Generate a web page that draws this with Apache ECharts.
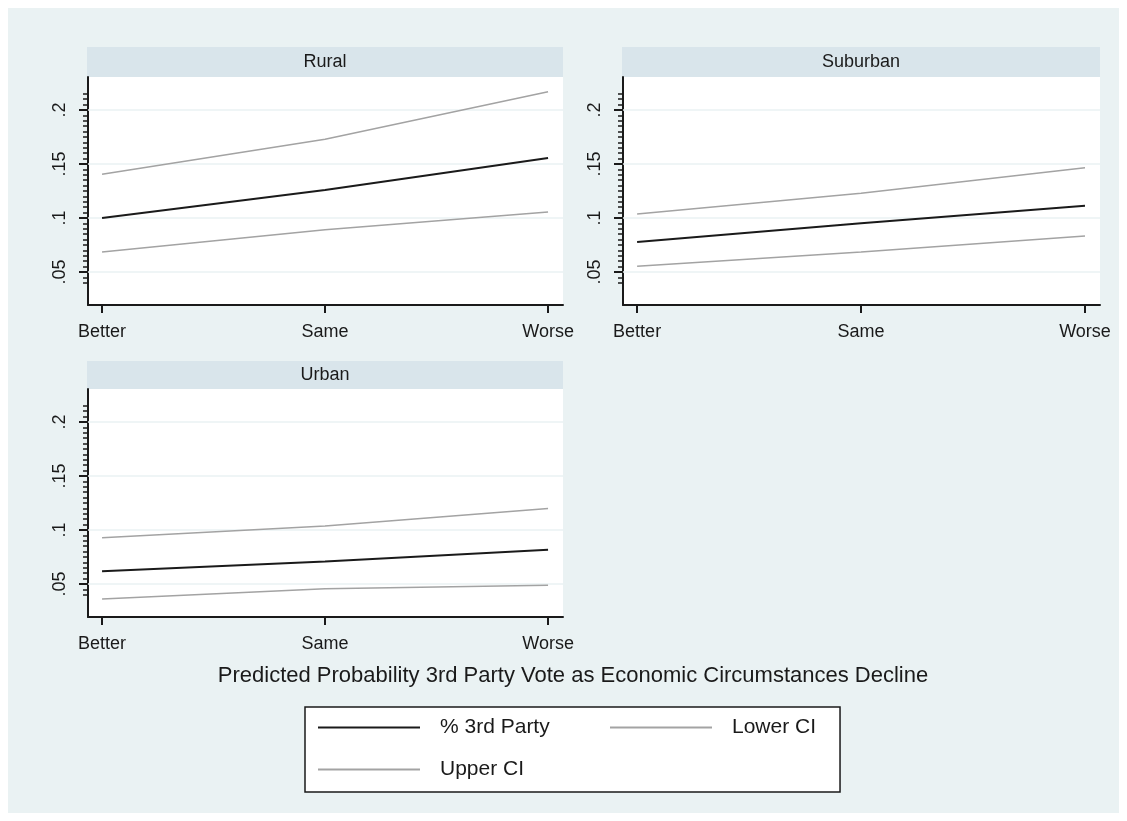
<!DOCTYPE html>
<html>
<head>
<meta charset="utf-8">
<script src="https://cdn.jsdelivr.net/npm/echarts@6/dist/echarts.min.js"></script>
<style>
  html, body { margin: 0; padding: 0; background: #ffffff; }
  #chart { width: 1127px; height: 821px; }
</style>
</head>
<body>
<div id="chart"></div>
<script>
// Economic outlook categories on the x axis
const categories = ['Better', 'Same', 'Worse'];
const panels = ['Rural', 'Suburban', 'Urban'];

// Predicted probability of a 3rd party vote with confidence bounds, per panel
const meanRural = [0.100, 0.126, 0.1556];
const lowerRural = [0.0685, 0.089, 0.1056];
const upperRural = [0.1405, 0.173, 0.217];

const meanSuburban = [0.0778, 0.0951, 0.1114];
const lowerSuburban = [0.0553, 0.0685, 0.0833];
const upperSuburban = [0.1037, 0.1229, 0.1466];

const meanUrban = [0.0618, 0.0709, 0.0818];
const lowerUrban = [0.0361, 0.0455, 0.0488];
const upperUrban = [0.0927, 0.1036, 0.1200];

// y axis ticks and their labels
const yTicks = [0.05, 0.1, 0.15, 0.2];
const yTickLabels = ['.05', '.1', '.15', '.2'];

const seriesNames = ['% 3rd Party', 'Lower CI', 'Upper CI'];
const titleText = 'Predicted Probability 3rd Party Vote as Economic Circumstances Decline';

const FONT = '"Liberation Sans", Arial, sans-serif';
const INK = '#1a1a1a';
const BG = '#eaf2f3';
const STRIP = '#d9e5eb';
const CI_GREY = '#a3a3a3';

const Y_MIN = 0.0194, Y_MAX = 0.2306;
const X_MIN = 0.937, X_MAX = 3.067;

// small ticks every .005 along the y axis
const minorTicks = [];
for (let k = 8; k <= 43; k++) minorTicks.push(+(k * 0.005).toFixed(3));

const panelData = [
  { mean: meanRural, lower: lowerRural, upper: upperRural },
  { mean: meanSuburban, lower: lowerSuburban, upper: upperSuburban },
  { mean: meanUrban, lower: lowerUrban, upper: upperUrban }
];

const gridBoxes = [
  { left: 88, top: 77, width: 475, height: 228 },
  { left: 623, top: 77, width: 477, height: 228 },
  { left: 88, top: 389, width: 475, height: 228 }
];

const grids = [], xAxes = [], yAxes = [], series = [];

gridBoxes.forEach((g, i) => {
  grids.push(Object.assign({ backgroundColor: '#ffffff', show: true, borderWidth: 0 }, g));

  xAxes.push({
    type: 'value', gridIndex: i, min: X_MIN, max: X_MAX,
    axisLine: { show: true, onZero: false, lineStyle: { color: INK, width: 2 } },
    axisTick: { show: true, customValues: [1, 2, 3], length: 8, lineStyle: { color: INK, width: 2 } },
    axisLabel: {
      show: true, customValues: [1, 2, 3], margin: 18,
      formatter: v => categories[Math.round(v) - 1],
      color: INK, fontFamily: FONT, fontSize: 18
    },
    splitLine: { show: false }
  });

  // main y axis: line, major ticks, labels
  yAxes.push({
    type: 'value', gridIndex: i, min: Y_MIN, max: Y_MAX,
    axisLine: { show: true, lineStyle: { color: INK, width: 2 } },
    axisTick: { show: true, customValues: yTicks, length: 9, lineStyle: { color: INK, width: 2 } },
    axisLabel: {
      show: true, customValues: yTicks, rotate: 90, margin: 19,
      formatter: v => yTickLabels[yTicks.indexOf(v)],
      color: INK, fontFamily: FONT, fontSize: 18
    },
    splitLine: { show: false }
  });
  // companion y axis carrying the small ticks
  yAxes.push({
    type: 'value', gridIndex: i, min: Y_MIN, max: Y_MAX, position: 'left',
    axisLine: { show: false },
    axisTick: { show: true, customValues: minorTicks, length: 5, lineStyle: { color: INK, width: 1.5 } },
    axisLabel: { show: false },
    splitLine: { show: false }
  });

  const d = panelData[i];
  const pts = arr => arr.map((v, j) => [j + 1, v]);
  const base = {
    type: 'line', xAxisIndex: i, yAxisIndex: 2 * i, symbol: 'none',
    silent: true, animation: false
  };
  series.push(Object.assign({}, base, {
    name: seriesNames[0], data: pts(d.mean), z: 4,
    lineStyle: { color: INK, width: 2 }, itemStyle: { color: INK },
    markLine: {
      silent: true, symbol: 'none', z: 1, animation: false,
      label: { show: false },
      lineStyle: { color: BG, width: 1.5, type: 'solid' },
      data: yTicks.map(v => ({ yAxis: v }))
    }
  }));
  series.push(Object.assign({}, base, {
    name: seriesNames[1], data: pts(d.lower), z: 3,
    lineStyle: { color: CI_GREY, width: 1.5 }, itemStyle: { color: CI_GREY }
  }));
  series.push(Object.assign({}, base, {
    name: seriesNames[2], data: pts(d.upper), z: 3,
    lineStyle: { color: CI_GREY, width: 1.5 }, itemStyle: { color: CI_GREY }
  }));
});

// panel header strips
const strips = [
  { x: 87, y: 47, w: 476, h: 30, label: panels[0] },
  { x: 622, y: 47, w: 478, h: 30, label: panels[1] },
  { x: 87, y: 361, w: 476, h: 28, label: panels[2] }
];
const graphics = [
  { type: 'rect', left: 8, top: 8, z: -10, silent: true,
    shape: { width: 1111, height: 805 }, style: { fill: BG } }
];
strips.forEach(s => {
  graphics.push({ type: 'rect', x: s.x, y: s.y, z: -5, silent: true,
    shape: { width: s.w, height: s.h }, style: { fill: STRIP } });
  graphics.push({ type: 'text', x: s.x + s.w / 2, y: s.y + s.h / 2, z: 5, silent: true,
    style: { text: s.label, fill: INK, font: '18px ' + FONT, textAlign: 'center', textVerticalAlign: 'middle' } });
});
graphics.push({ type: 'text', x: 573, y: 676, silent: true,
  style: { text: titleText, fill: INK, font: '22px ' + FONT, textAlign: 'center', textVerticalAlign: 'middle' } });

const option = {
  animation: false,
  backgroundColor: '#ffffff',
  graphic: graphics,
  grid: grids,
  xAxis: xAxes,
  yAxis: yAxes,
  legend: {
    left: 305, top: 707, width: 530, orient: 'horizontal',
    backgroundColor: '#ffffff', borderColor: INK, borderWidth: 1.5,
    padding: [10, 24, 12, 13],
    itemGap: 21, itemWidth: 102, itemHeight: 2, icon: 'rect',
    selectedMode: false,
    textStyle: { color: INK, fontFamily: FONT, fontSize: 21, lineHeight: 14, padding: [0, 0, 0, 15] },
    data: [
      { name: seriesNames[0], textStyle: { width: 149 } },
      { name: seriesNames[1] },
      { name: seriesNames[2] }
    ]
  },
  series: series
};

const chart = echarts.init(document.getElementById('chart'), null, { renderer: 'canvas' });
chart.setOption(option);
</script>
</body>
</html>
